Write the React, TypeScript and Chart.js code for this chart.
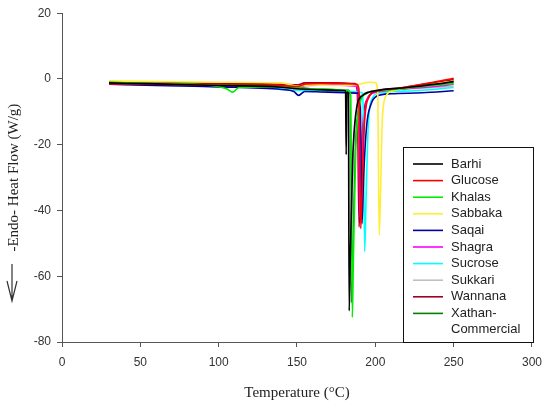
import React, { useEffect, useRef } from "react";
import { Chart, registerables } from "chart.js";

Chart.register(...registerables);

// Series names and colours
const seriesNames = ["Barhi", "Glucose", "Khalas", "Sabbaka", "Saqai", "Shagra", "Sucrose", "Sukkari", "Wannana", "Xathan-Commercial"];
const legendLabels = [["Barhi"], ["Glucose"], ["Khalas"], ["Sabbaka"], ["Saqai"], ["Shagra"], ["Sucrose"], ["Sukkari"], ["Wannana"], ["Xathan-", "Commercial"]];
const seriesColors = ["#000000", "#ff0000", "#00ee00", "#ffee33", "#0000a0", "#ff00ff", "#00ffff", "#c0c0c0", "#a00020", "#008000"];

// [temperature °C, heat flow W/g]
const barhi = [[30, -1.2], [60, -1.5], [100, -2.0], [140, -2.5], [150, -3.0], [160, -3.2], [180, -3.5], [181, -3.6], [181.4, -23], [181.8, -4], [182.8, -4.2], [183.3, -70.5], [184, -55], [185.5, -25], [188, -9], [192, -5], [200, -3.6], [220, -2.6], [240, -1.5], [250, -0.8]];
const glucose = [[30, -1.5], [60, -1.6], [100, -1.9], [140, -2.0], [150, -2.3], [156, -1.5], [175, -1.3], [188, -1.6], [189.5, -3], [190.7, -45.5], [191.5, -35], [193, -14], [196, -5.5], [200, -3.8], [215, -2.8], [235, -1.2], [250, 0.2]];
const khalas = [[30, -1.0], [60, -1.4], [95, -2.0], [105, -3.0], [109, -4.0], [113, -2.6], [130, -2.4], [150, -2.7], [160, -3.0], [183, -3.5], [184.3, -5], [185.3, -72.5], [186, -55], [187.5, -22], [190, -8], [194, -4.5], [205, -3.5], [220, -2.8], [240, -1.8], [250, -1.4]];
const sabbaka = [[30, -0.6], [60, -0.8], [100, -1.0], [140, -1.2], [151, -2.2], [158, -1.8], [180, -2.0], [190, -1.6], [196, -1.0], [200, -1.1], [201.5, -4], [202.5, -47.5], [203.3, -35], [204.5, -12], [207, -5], [212, -3.5], [230, -2.0], [250, -0.6]];
const saqai = [[30, -1.6], [60, -2.0], [100, -2.4], [140, -3.2], [148, -3.8], [151, -5.0], [155, -3.8], [170, -4.0], [189, -4.3], [190.3, -6], [191.5, -44], [192.5, -30], [194.5, -14], [197, -8], [201, -5.2], [210, -4.5], [230, -4.2], [250, -3.6]];
const shagra = [[30, -1.3], [60, -1.6], [100, -2.0], [140, -2.4], [150, -2.8], [156, -2.0], [175, -1.8], [188, -2.2], [189, -4], [190.2, -42], [191, -32], [193, -12], [196, -5.2], [203, -3.8], [220, -3.0], [240, -2.2], [250, -1.6]];
const sucrose = [[30, -1.5], [60, -1.8], [100, -2.3], [140, -3.0], [150, -3.5], [160, -3.5], [185, -3.8], [191.5, -4.2], [192.2, -8], [193.2, -52.5], [194, -38], [195.5, -14], [198, -6], [203, -4.2], [225, -3.6], [250, -2.6]];
const sukkari = [[30, -1.4], [60, -1.8], [100, -2.2], [140, -2.8], [150, -3.2], [160, -3.2], [182, -3.4], [183.3, -6], [184.3, -62], [185, -48], [186.5, -20], [189, -8], [194, -4.2], [210, -3.3], [230, -2.8], [250, -2.2]];
const wannana = [[30, -1.0], [60, -1.1], [100, -1.3], [140, -1.6], [150, -1.8], [155, -1.2], [175, -1.2], [187, -1.4], [188.5, -4], [189.6, -45], [190.5, -34], [192, -14], [195, -6], [200, -4.0], [215, -2.8], [235, -1.3], [250, -0.2]];
const xathan = [[30, -0.8], [60, -1.1], [100, -1.5], [140, -2.0], [150, -2.5], [160, -3.0], [182.5, -3.4], [183.8, -6], [184.8, -68], [185.6, -50], [187, -22], [189.5, -8], [194, -4.3], [210, -3.2], [230, -2.2], [250, -0.8]];

const seriesData = [barhi, glucose, khalas, sabbaka, saqai, shagra, sucrose, sukkari, wannana, xathan];

// Axis ranges / ticks
const xMin = 0, xMax = 300, xStep = 50;
const yMin = -80, yMax = 20, yStep = 20;
const xTitle = "Temperature (°C)";
const yTitle = "-Endo- Heat Flow (W/g)";

const legendPlugin = {
  id: "customLegend",
  afterDraw(chart: any) {
    const ctx = chart.ctx;
    ctx.save();
    // box
    ctx.strokeStyle = "#111";
    ctx.lineWidth = 1;
    ctx.strokeRect(403.5, 147.5, 130, 195);
    ctx.font = "13px 'Liberation Sans', Arial, sans-serif";
    ctx.textBaseline = "middle";
    ctx.textAlign = "left";
    let y = 164;
    chart.data.datasets.forEach((ds: any, i: number) => {
      ctx.strokeStyle = ds.borderColor;
      ctx.lineWidth = 1.6;
      ctx.beginPath();
      ctx.moveTo(413, y);
      ctx.lineTo(443, y);
      ctx.stroke();
      ctx.fillStyle = "#222";
      const lines = legendLabels[i];
      lines.forEach((t: string, k: number) => {
        ctx.fillText(t, 451, y + k * 16.5);
      });
      y += 16.6;
    });
    // arrow beside y title
    ctx.strokeStyle = "#333";
    ctx.lineWidth = 1.2;
    ctx.beginPath();
    ctx.moveTo(12, 264);
    ctx.lineTo(12, 301);
    ctx.moveTo(7, 281);
    ctx.lineTo(12, 301);
    ctx.lineTo(17, 281);
    ctx.stroke();
    ctx.restore();
  },
};

export default function App() {
  const ref = useRef<HTMLCanvasElement | null>(null);
  useEffect(() => {
    if (!ref.current) return;
    const chart = new Chart(ref.current, {
      type: "line",
      data: {
        datasets: seriesData.map((pts, i) => ({
          label: seriesNames[i],
          data: pts.map((p) => ({ x: p[0], y: p[1] })),
          borderColor: seriesColors[i],
          backgroundColor: seriesColors[i],
          borderWidth: 1.6,
          pointRadius: 0,
          fill: false,
          cubicInterpolationMode: "monotone" as const,
        })),
      },
      options: {
        animation: false,
        responsive: false,
        layout: { padding: { left: 0, right: 16, top: 10, bottom: 0 } },
        plugins: { legend: { display: false }, tooltip: { enabled: false } },
        scales: {
          x: {
            type: "linear",
            min: xMin,
            max: xMax,
            ticks: { stepSize: xStep, color: "#333", padding: 8, font: { family: "'Liberation Sans', Arial, sans-serif", size: 12 } },
            grid: { drawOnChartArea: false, drawTicks: true, tickLength: 5, color: "#555" },
            border: { display: true, color: "#555" },
            title: { display: true, text: xTitle, color: "#222", padding: { top: 0, bottom: 3 }, font: { family: "'Liberation Serif', 'Times New Roman', serif", size: 15 } },
            afterFit: (s: any) => { s.height = 63; },
          },
          y: {
            type: "linear",
            min: yMin,
            max: yMax,
            ticks: { stepSize: yStep, color: "#333", padding: 6, font: { family: "'Liberation Sans', Arial, sans-serif", size: 12 } },
            grid: { drawOnChartArea: false, drawTicks: true, tickLength: 5, color: "#555" },
            border: { display: true, color: "#555" },
            title: { display: true, text: yTitle, color: "#222", padding: { top: 5, bottom: 0 }, font: { family: "'Liberation Serif', 'Times New Roman', serif", size: 15 } },
            afterFit: (s: any) => { s.width = 62; },
          },
        },
      },
      plugins: [legendPlugin],
    });
    return () => chart.destroy();
  }, []);
  return (
    <div style={{ position: "absolute", left: 0, top: 0, width: 550, height: 405, background: "#fff" }}>
      <canvas ref={ref} width={550} height={405} />
    </div>
  );
}
